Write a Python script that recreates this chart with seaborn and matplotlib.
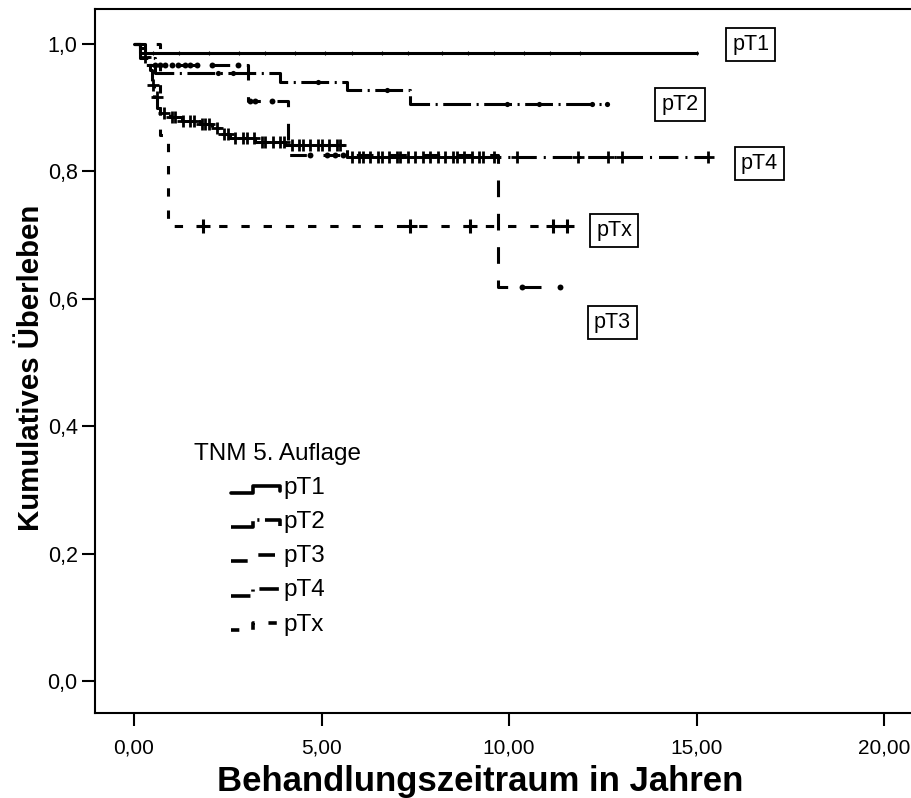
import numpy as np
import pandas as pd
import matplotlib
matplotlib.use("Agg")
import matplotlib.pyplot as plt
from matplotlib.lines import Line2D
from matplotlib.legend_handler import HandlerLine2D
import seaborn as sns

# Kaplan-Meier step curves: times (years) and survival after each step
groups = ["pT1", "pT2", "pT3", "pT4", "pTx"]

pT1_time = [0.0, 0.15, 15.0]
pT1_surv = [1.0, 0.985, 0.985]

pT2_time = [0.0, 0.15, 0.55, 3.89, 5.68, 7.36, 12.6]
pT2_surv = [1.0, 0.977, 0.954, 0.940, 0.927, 0.906, 0.906]

pT3_time = [0.0, 0.30, 3.04, 4.10, 9.70, 11.36]
pT3_surv = [1.0, 0.966, 0.910, 0.825, 0.618, 0.618]

pT4_time = [0.0, 0.16, 0.29, 0.43, 0.48, 0.53, 0.61, 0.69, 0.96, 1.28,
            1.76, 2.08, 2.29, 2.56, 3.23, 4.03, 5.68, 15.31]
pT4_surv = [1.0, 0.993, 0.979, 0.958, 0.935, 0.916, 0.899, 0.891, 0.885, 0.878,
            0.874, 0.867, 0.858, 0.852, 0.845, 0.841, 0.822, 0.822]

pTx_time = [0.0, 0.69, 0.91, 11.55]
pTx_surv = [1.0, 0.857, 0.714, 0.714]

# censored observations (years)
pT1_cens = [0.5, 1.2, 2.0, 2.8, 3.5, 4.3, 5.1, 5.8, 6.6, 7.3, 8.2, 8.9, 9.6,
            10.4, 11.1, 11.9, 15.0]
pT2_cens = [2.24, 2.64, 4.9, 6.75, 9.95, 10.8, 12.2, 12.6]
pT3_cens = [0.56, 0.69, 0.83, 1.01, 1.17, 1.36, 1.49, 1.68, 2.08, 2.77,
            3.09, 3.23, 3.68, 4.69, 5.15, 5.36, 5.57, 10.35, 11.36]
pT4_cens = [0.3, 0.5, 0.6, 0.8, 1.0, 1.1, 1.3, 1.5, 1.6, 1.8, 1.9, 2.0, 2.2,
            2.4, 2.5, 2.7, 2.9, 3.0, 3.2, 3.4, 3.5, 3.7, 3.9, 4.0, 4.2, 4.4,
            4.5, 4.7, 4.9, 5.0, 5.2, 5.4, 5.5, 5.8, 6.0, 6.1, 6.3, 6.5, 6.6,
            6.8, 7.0, 7.1, 7.3, 7.5, 7.7, 7.9, 8.1, 8.3, 8.5, 8.6, 8.8, 9.0,
            9.2, 9.3, 9.6, 10.2, 11.84, 12.64, 13.0, 15.31]
pTx_cens = [1.85, 7.36, 8.96, 11.17, 11.55]

x_ticks = [0, 5, 10, 15, 20]
x_ticklabels = ["0,00", "5,00", "10,00", "15,00", "20,00"]
y_ticks = [0.0, 0.2, 0.4, 0.6, 0.8, 1.0]
y_ticklabels = ["0,0", "0,2", "0,4", "0,6", "0,8", "1,0"]

curves = {
    "pT1": (pT1_time, pT1_surv, pT1_cens),
    "pT2": (pT2_time, pT2_surv, pT2_cens),
    "pT3": (pT3_time, pT3_surv, pT3_cens),
    "pT4": (pT4_time, pT4_surv, pT4_cens),
    "pTx": (pTx_time, pTx_surv, pTx_cens),
}

# styling
dash_map = {
    "pT1": "",
    "pT2": (20, 4, 1.5, 4),
    "pT3": (12, 12),
    "pT4": (14, 5, 1.5, 5),
    "pTx": (6, 10),
}
censor_style = {
    "pT1": dict(marker="|", s=12, linewidth=0.8),
    "pT2": dict(marker="o", s=14, linewidth=0),
    "pT3": dict(marker="o", s=18, linewidth=0),
    "pT4": dict(marker="+", s=80, linewidth=2.0),
    "pTx": dict(marker="+", s=110, linewidth=2.2),
}
label_pos = {
    "pT1": (16.45, 0.998),
    "pT2": (14.56, 0.905),
    "pT4": (16.67, 0.812),
    "pTx": (12.80, 0.707),
    "pT3": (12.75, 0.563),
}

sns.set_theme(style="white")
plt.rcParams["font.family"] = ["Liberation Sans", "DejaVu Sans"]
plt.rcParams["lines.scale_dashes"] = False
for key in ["text.color", "axes.labelcolor", "xtick.color", "ytick.color",
            "axes.edgecolor"]:
    plt.rcParams[key] = "black"

rows = []
for g in groups:
    t, s, _ = curves[g]
    rows += [{"group": g, "time": ti, "surv": si} for ti, si in zip(t, s)]
steps = pd.DataFrame(rows)

cens_rows = []
for g in groups:
    t, s, c = curves[g]
    t_arr, s_arr = np.asarray(t), np.asarray(s)
    for ci in c:
        idx = np.searchsorted(t_arr, ci, side="right") - 1
        cens_rows.append({"group": g, "time": ci, "surv": s_arr[idx]})
censored = pd.DataFrame(cens_rows)

fig = plt.figure(figsize=(9.11, 7.98), dpi=100)
ax = fig.add_axes([0.1043, 0.1065, 0.8957, 0.882])

sns.lineplot(data=steps, x="time", y="surv", style="group", style_order=groups,
             dashes=dash_map, color="black", linewidth=2.2,
             drawstyle="steps-post", estimator=None, sort=False,
             legend=False, ax=ax)

for g in groups:
    sub = censored[censored["group"] == g]
    sns.scatterplot(data=sub, x="time", y="surv", color="black",
                    edgecolor="black", ax=ax, legend=False, zorder=3,
                    **censor_style[g])

for g, (lx, ly) in label_pos.items():
    ax.text(lx, ly, g, fontsize=15.5, ha="center", va="center",
            bbox=dict(boxstyle="square,pad=0.28", fc="white", ec="black", lw=1.3))


class StepHandler(HandlerLine2D):
    """Legend glyph drawn as a small survival step."""

    def create_artists(self, legend, orig_handle, xdescent, ydescent,
                       width, height, fontsize, trans):
        x0, x1 = -xdescent, -xdescent + width
        ylo = -ydescent + 0.05 * height
        yhi = -ydescent + 0.45 * height
        xm = x0 + 0.45 * width
        xs = [x0, xm, xm, x1, x1]
        ys = [ylo, ylo, yhi, yhi, ylo + 0.1 * height]
        line = Line2D(xs, ys, color="black", linewidth=2.6)
        d = orig_handle.get_gid()
        if d:
            line.set_dashes(d)
        line.set_transform(trans)
        return [line]


handles = []
for g in groups:
    h = Line2D([], [], color="black", label=g)
    h.set_gid(dash_map[g])
    handles.append(h)

leg = ax.legend(handles=handles, title="TNM 5. Auflage", loc="upper center",
                bbox_to_anchor=(0.224, 0.415), frameon=False, fontsize=17.5,
                title_fontsize=17.5, handlelength=2.05, handleheight=0.7,
                handletextpad=0.12, labelspacing=0.5,
                handler_map={Line2D: StepHandler()})

ax.set_xlim(-1.04, 20.72)
ax.set_ylim(-0.050, 1.054)
ax.set_xticks(x_ticks)
ax.set_xticklabels(x_ticklabels)
ax.set_yticks(y_ticks)
ax.set_yticklabels(y_ticklabels)
ax.tick_params(axis="x", direction="out", length=9, width=1.5, pad=9,
               labelsize=15, bottom=True, colors="black")
ax.tick_params(axis="y", direction="out", length=9.5, width=1.5, pad=3,
               labelsize=15.5, left=True, colors="black")
ax.set_xlabel("Behandlungszeitraum in Jahren", fontsize=25, fontweight="bold",
              va="center")
ax.xaxis.set_label_coords(0.472, -0.097)
ax.set_ylabel("Kumulatives Überleben", fontsize=21.2, fontweight="bold",
              va="center")
ax.yaxis.set_label_coords(-0.079, 0.49)
for side in ["left", "bottom", "top"]:
    ax.spines[side].set_linewidth(1.5)
    ax.spines[side].set_color("black")
ax.spines["right"].set_visible(False)

fig.savefig("out.png", dpi=100)
